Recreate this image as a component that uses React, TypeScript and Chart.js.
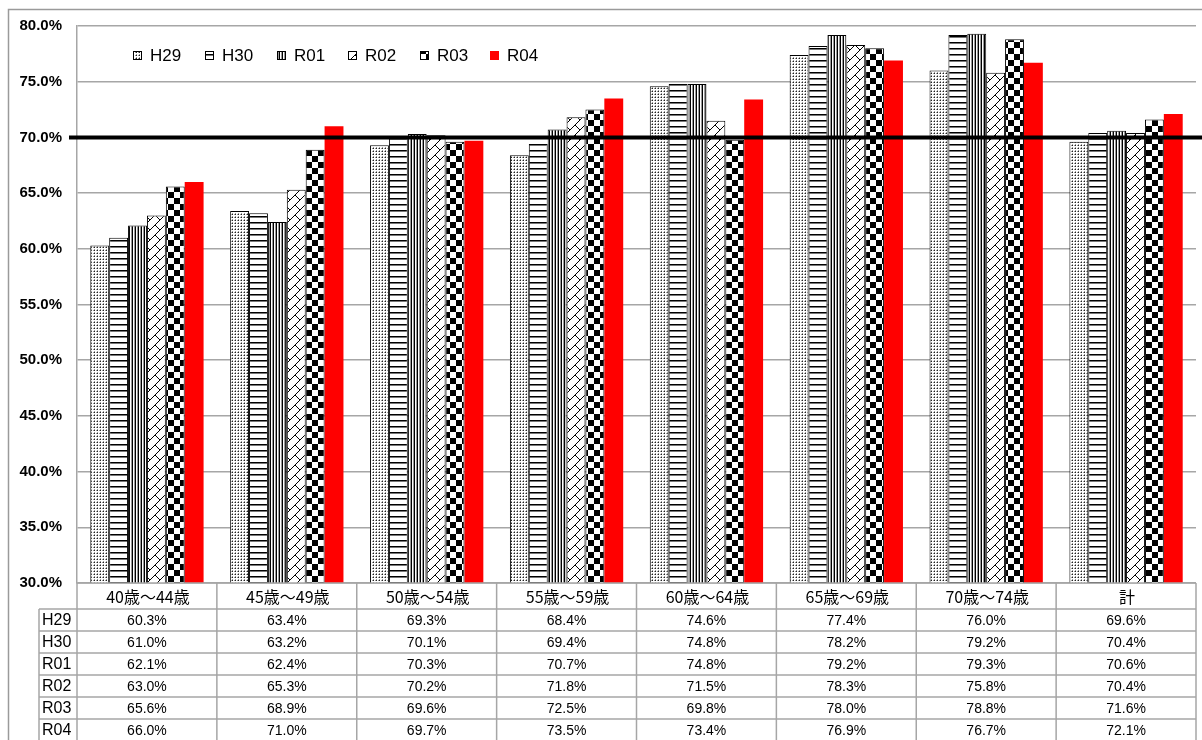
import React, { useEffect, useRef } from "react";
import { Chart, registerables } from "chart.js";

Chart.register(...registerables);

// Age groups and the total column
const categories = [
  "40歳～44歳",
  "45歳～49歳",
  "50歳～54歳",
  "55歳～59歳",
  "60歳～64歳",
  "65歳～69歳",
  "70歳～74歳",
  "計",
];

const seriesNames = ["H29", "H30", "R01", "R02", "R03", "R04"];

// Rates (%) per fiscal year
const h29 = [60.3, 63.4, 69.3, 68.4, 74.6, 77.4, 76.0, 69.6];
const h30 = [61.0, 63.2, 70.1, 69.4, 74.8, 78.2, 79.2, 70.4];
const r01 = [62.1, 62.4, 70.3, 70.7, 74.8, 79.2, 79.3, 70.6];
const r02 = [63.0, 65.3, 70.2, 71.8, 71.5, 78.3, 75.8, 70.4];
const r03 = [65.6, 68.9, 69.6, 72.5, 69.8, 78.0, 78.8, 71.6];
const r04 = [66.0, 71.0, 69.7, 73.5, 73.4, 76.9, 76.7, 72.1];

const seriesValues = [h29, h30, r01, r02, r03, r04];

// Axis range and the target line
const yMin = 30;
const yMax = 80;
const yStep = 5;
const targetRate = 70;

const LATIN = "'Liberation Sans', Arial, sans-serif";
const CJK = "'Noto Sans CJK JP', 'Liberation Sans', sans-serif";
const GRID = "#a6a6a6";

function tile(w: number, h: number, draw: (g: CanvasRenderingContext2D) => void) {
  const c = document.createElement("canvas");
  c.width = w;
  c.height = h;
  const g = c.getContext("2d") as CanvasRenderingContext2D;
  g.fillStyle = "#fff";
  g.fillRect(0, 0, w, h);
  draw(g);
  return c;
}

function makeFills(ctx: CanvasRenderingContext2D): (CanvasPattern | string)[] {
  const dots = tile(3, 3, (g) => {
    g.fillStyle = "#222";
    g.fillRect(1, 1, 1, 1);
    g.fillStyle = "#9a9a9a";
    g.fillRect(0, 1, 1, 1);
    g.fillRect(1, 0, 1, 1);
  });
  const hLines = tile(1, 6, (g) => {
    g.fillStyle = "#000";
    g.fillRect(0, 0, 1, 1);
    g.fillStyle = "#777";
    g.fillRect(0, 1, 1, 1);
  });
  const vLines = tile(3, 1, (g) => {
    g.fillStyle = "#000";
    g.fillRect(0, 0, 1, 1);
    g.fillStyle = "#999";
    g.fillRect(2, 0, 1, 1);
  });
  const brick = tile(10, 10, (g) => {
    g.strokeStyle = "#000";
    g.lineWidth = 1;
    g.beginPath();
    g.moveTo(-1, 11);
    g.lineTo(11, -1);
    g.moveTo(5, 5);
    g.lineTo(11, 11);
    g.moveTo(-1, -1);
    g.lineTo(0, 0);
    g.stroke();
  });
  const checker = tile(12, 12, (g) => {
    g.fillStyle = "#000";
    g.fillRect(0, 0, 6, 6);
    g.fillRect(6, 6, 6, 6);
  });
  const p = (c: HTMLCanvasElement) => ctx.createPattern(c, "repeat") as CanvasPattern;
  return [p(dots), p(hLines), p(vLines), p(brick), p(checker), "#ff0000"];
}

export default function App() {
  const ref = useRef<HTMLCanvasElement | null>(null);

  useEffect(() => {
    const canvas = ref.current;
    if (!canvas) return;
    const ctx = canvas.getContext("2d") as CanvasRenderingContext2D;
    const fills = makeFills(ctx);

    const headerH = 26;
    const rowH = 22;
    const rowLabelLeft = 39;

    const overlay = {
      id: "overlay",
      afterDatasetsDraw(chart: Chart) {
        const c = chart.ctx as any;
        const area = chart.chartArea;
        const ys = chart.scales.y;
        const xs = chart.scales.x;
        const catW = (area.right - area.left) / categories.length;

        c.save();
        // target line
        const ty = ys.getPixelForValue(targetRate);
        c.strokeStyle = "#000";
        c.lineWidth = 4;
        c.beginPath();
        c.moveTo(69, ty);
        c.lineTo(1202, ty);
        c.stroke();

        // legend inside the plot
        const legX = [133, 205, 277, 348, 420, 490];
        const legY = 55;
        c.font = `17px ${LATIN}`;
        c.textBaseline = "middle";
        c.textAlign = "left";
        seriesNames.forEach((name, i) => {
          const bx = legX[i];
          c.fillStyle = fills[i];
          c.fillRect(bx, legY - 4, 9, 9);
          if (i < 5) {
            c.strokeStyle = "#000";
            c.lineWidth = 1;
            c.strokeRect(bx + 0.5, legY - 3.5, 8, 8);
          }
          c.fillStyle = "#000";
          c.fillText(name, bx + 17, legY + 1);
        });

        // data table below the plot
        const top = area.bottom;
        const bottomEdge = top + headerH + rowH * seriesNames.length;
        c.strokeStyle = GRID;
        c.lineWidth = 1.5;
        c.beginPath();
        for (let r = 0; r <= seriesNames.length; r++) {
          const y = top + headerH + r * rowH;
          c.moveTo(rowLabelLeft, y);
          c.lineTo(area.right, y);
        }
        c.moveTo(rowLabelLeft, top + headerH);
        c.lineTo(rowLabelLeft, bottomEdge);
        for (let i = 0; i <= categories.length; i++) {
          const x = area.left + i * catW;
          c.moveTo(x, top);
          c.lineTo(x, bottomEdge);
        }
        c.moveTo(area.left, top);
        c.lineTo(area.right, top);
        c.stroke();

        c.fillStyle = "#000";
        c.textBaseline = "middle";
        c.textAlign = "center";
        c.font = `16px ${CJK}`;
        categories.forEach((cat, i) => {
          const cx = xs.getPixelForValue(i);
          c.fillText(cat, cx + 1, top + headerH / 2 + 1);
        });
        seriesNames.forEach((name, r) => {
          const cy = top + headerH + r * rowH + rowH / 2 + 1;
          c.font = `16px ${LATIN}`;
          c.textAlign = "left";
          c.fillText(name, rowLabelLeft + 3, cy);
          c.font = `14px ${LATIN}`;
          c.textAlign = "center";
          seriesValues[r].forEach((v, i) => {
            const cx = xs.getPixelForValue(i);
            c.fillText(v.toFixed(1) + "%", cx, cy);
          });
        });

        // outer frame
        c.strokeStyle = "#9a9a9a";
        c.lineWidth = 1.5;
        c.beginPath();
        c.moveTo(8.5, 740);
        c.lineTo(8.5, 9.5);
        c.lineTo(1202, 9.5);
        c.stroke();
        c.restore();
      },
    };

    const chart = new Chart(canvas, {
      type: "bar",
      data: {
        labels: categories,
        datasets: seriesNames.map((name, i) => ({
          label: name,
          data: seriesValues[i],
          backgroundColor: fills[i] as any,
          borderColor: "#000",
          borderWidth: i < 5 ? 1 : 0,
          categoryPercentage: 0.81,
          barPercentage: 1,
        })),
      },
      options: {
        animation: false,
        responsive: false,
        devicePixelRatio: 1,
        layout: { padding: { left: 0, top: 26, right: 6, bottom: 157 } },
        plugins: {
          legend: { display: false },
          tooltip: { enabled: false },
        },
        scales: {
          x: { display: false },
          y: {
            min: yMin,
            max: yMax,
            ticks: {
              stepSize: yStep,
              padding: 15,
              color: "#000",
              font: { family: LATIN, size: 15, weight: "bold" },
              callback: (v: any) => Number(v).toFixed(1) + "%",
            },
            grid: { color: GRID, lineWidth: 1.5, drawTicks: false },
            border: { color: GRID, width: 1.5 },
            afterFit: (s: any) => {
              s.width = 77;
            },
          },
        },
      } as any,
      plugins: [overlay],
    });

    return () => chart.destroy();
  }, []);

  return (
    <div style={{ position: "absolute", left: 0, top: 0, width: 1202, height: 740, background: "#fff" }}>
      <canvas ref={ref} width={1202} height={740} style={{ display: "block" }} />
    </div>
  );
}
